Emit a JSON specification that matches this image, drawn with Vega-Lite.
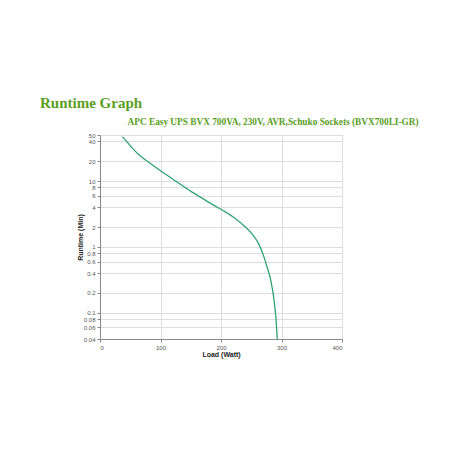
{
  "$schema": "https://vega.github.io/schema/vega-lite/v6.json",
  "autosize": "none",
  "padding": {"left": 100, "top": 135, "right": 116, "bottom": 119},
  "width": 242,
  "height": 204,
  "background": "white",
  "title": {"text": "Runtime Graph", "anchor": "start", "frame": "group", "dx": -60, "font": "Liberation Serif", "fontSize": 15, "fontWeight": "bold", "color": "#5a9e1e", "offset": 6},
  "config": {"view": {"stroke": "#999", "strokeWidth": 1}},
  "data": {"values": [
    {"load": 37, "runtime": 47},
    {"load": 45, "runtime": 39},
    {"load": 55, "runtime": 30.5},
    {"load": 63, "runtime": 25.8},
    {"load": 72, "runtime": 22},
    {"load": 80, "runtime": 19.5},
    {"load": 100, "runtime": 14.3},
    {"load": 125, "runtime": 10},
    {"load": 151, "runtime": 6.9},
    {"load": 170, "runtime": 5.4},
    {"load": 190, "runtime": 4.19},
    {"load": 206.6, "runtime": 3.43},
    {"load": 223, "runtime": 2.72},
    {"load": 239.7, "runtime": 2.03},
    {"load": 250.7, "runtime": 1.61},
    {"load": 261.7, "runtime": 1.14},
    {"load": 270, "runtime": 0.75},
    {"load": 276, "runtime": 0.5},
    {"load": 282, "runtime": 0.32},
    {"load": 287.5, "runtime": 0.16},
    {"load": 291, "runtime": 0.078},
    {"load": 293, "runtime": 0.04}
  ]},
  "resolve": {"axis": {"x": "independent"}},
  "layer": [
    {
      "mark": {"type": "line", "color": "#2fa374", "strokeWidth": 1.3, "interpolate": "monotone", "clip": true},
      "encoding": {
        "x": {"field": "load", "type": "quantitative", "scale": {"domain": [0, 400], "nice": false},
          "axis": {"values": [0, 100, 200, 300, 400], "title": "Load (Watt)", "titleFont": "Liberation Sans", "titleFontSize": 7, "titleFontWeight": "bold", "titleColor": "#222", "titlePadding": 0, "labelFont": "Liberation Sans", "labelFontSize": 6, "labelColor": "#555", "tickSize": 3, "tickColor": "#888", "domainColor": "#888", "gridColor": "#ddd", "labelPadding": 2}},
        "y": {"field": "runtime", "type": "quantitative", "scale": {"type": "log", "domain": [0.04, 50], "nice": false},
          "axis": {"values": [0.04, 0.06, 0.08, 0.1, 0.2, 0.4, 0.6, 0.8, 1, 2, 4, 6, 8, 10, 20, 40, 50], "format": "~g", "labelOverlap": false, "title": "Runtime (Min)", "titleFont": "Liberation Sans", "titleFontSize": 7, "titleFontWeight": "bold", "titleColor": "#222", "titlePadding": 0, "labelFont": "Liberation Sans", "labelFontSize": 6, "labelColor": "#555", "tickSize": 3, "tickColor": "#888", "domainColor": "#888", "gridColor": "#ddd", "labelPadding": 2}}
      }
    },
    {
      "mark": {"type": "line", "opacity": 0},
      "encoding": {
        "x": {"field": "load", "type": "quantitative",
          "axis": {"orient": "top", "title": "APC Easy UPS BVX 700VA, 230V, AVR,Schuko Sockets (BVX700LI-GR)", "titleFont": "Liberation Serif", "titleFontSize": 9.3, "titleFontWeight": "bold", "titleColor": "#5a9e1e", "titleAlign": "left", "titleAnchor": "start", "titleX": 27, "titleY": -11, "titleBaseline": "alphabetic", "labels": false, "ticks": false, "domain": false, "grid": false}},
        "y": {"field": "runtime", "type": "quantitative"}
      }
    }
  ]
}
